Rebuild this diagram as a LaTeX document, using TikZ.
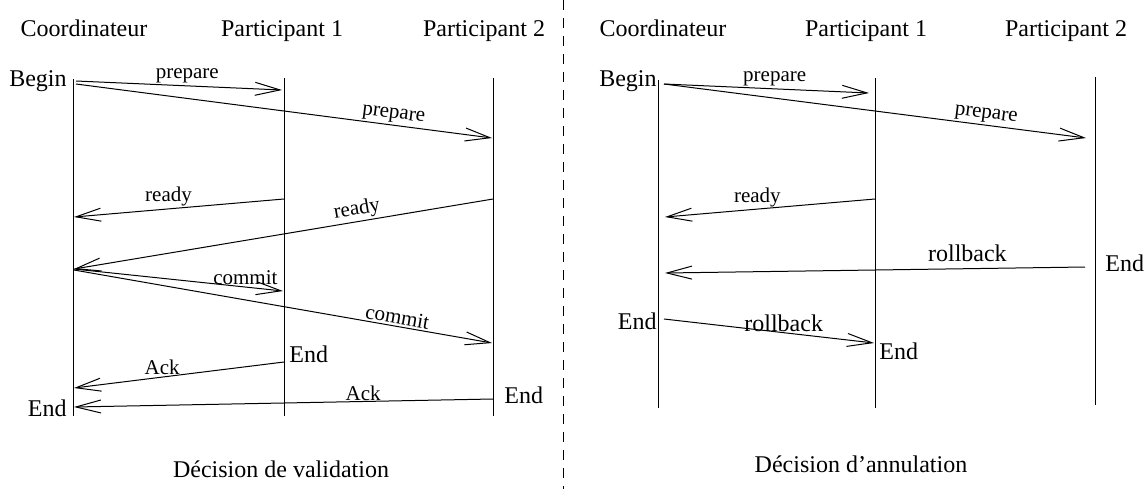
\documentclass[tikz,border=0pt]{standalone}
\usepackage{fontspec}
\setmainfont{Liberation Serif}
\usetikzlibrary{arrows.meta}

\begin{document}
\begin{tikzpicture}[x=0.5pt, y=-0.5pt,
      head/.style={font=\fontsize{12}{14}\selectfont, inner sep=0pt},
      lifeline/.style={line width=.5pt},
      msg/.style={line width=.5pt, -{Straight Barb[length=12.5pt, width=6.5pt]}},
      lbl/.style={font=\fontsize{10.5}{12}\selectfont, inner sep=1pt},
      blbl/.style={font=\fontsize{12}{14}\selectfont, inner sep=1pt},
    ]
    \useasboundingbox (0,0) rectangle (1146,489);

    % separation
    \coordinate (sepT) at (563,0);
    \coordinate (sepB) at (563,489);
    \draw[dash pattern=on 5pt off 4pt, line width=.5pt] (sepT) -- (sepB);

    % validation
    \node[head, anchor=base] (vCoord) at (84,36) {Coordinateur};
    \node[head, anchor=base] (vPart1) at (282,36) {Participant 1};
    \node[head, anchor=base] (vPart2) at (484,36) {Participant 2};

    \coordinate (vCtop) at (73,79);   \coordinate (vCbot) at (73,416);
    \coordinate (vP1top) at (284,78); \coordinate (vP1bot) at (284,416);
    \coordinate (vP2top) at (493,78); \coordinate (vP2bot) at (493,416);
    \draw[lifeline] (vCtop) -- (vCbot);
    \draw[lifeline] (vP1top) -- (vP1bot);
    \draw[lifeline] (vP2top) -- (vP2bot);

    \node[head, anchor=base east] (vBegin) at (67,86) {Begin};
    \node[head, anchor=base west] (vEnd1) at (289,362) {End};
    \node[head, anchor=base west] (vEnd2) at (504,403) {End};
    \node[head, anchor=base east] (vEndC) at (67,416) {End};

    \coordinate (vPrep1a) at (76,81);    \coordinate (vPrep1b) at (282,90);
    \coordinate (vPrep2a) at (76,84);    \coordinate (vPrep2b) at (492,138);
    \coordinate (vReady1a) at (284,199); \coordinate (vReady1b) at (74,217);
    \coordinate (vReady2a) at (493,199); \coordinate (vReady2b) at (74,269);
    \coordinate (vCommit1a) at (74,269); \coordinate (vCommit1b) at (283,291);
    \coordinate (vCommit2a) at (74,270); \coordinate (vCommit2b) at (492,343);
    \coordinate (vAck1a) at (284,362);   \coordinate (vAck1b) at (74,388);
    \coordinate (vAck2a) at (493,399);   \coordinate (vAck2b) at (74,407);

    \draw[msg] (vPrep1a) -- node[lbl, above, pos=.54] {prepare} (vPrep1b);
    \draw[msg] (vPrep2a) -- node[lbl, above, sloped, pos=.76] {prepare} (vPrep2b);
    \draw[msg] (vReady1a) -- node[lbl, above, pos=.55] {ready} (vReady1b);
    \draw[msg] (vReady2a) -- node[lbl, above, sloped, pos=.32] {ready} (vReady2b);
    \draw[msg] (vCommit1a) -- node[lbl, above, pos=.82] {commit} (vCommit1b);
    \draw[msg] (vCommit2a) -- node[lbl, above, sloped, pos=.77] {commit} (vCommit2b);
    \draw[msg] (vAck1a) -- node[lbl, above, pos=.58] {Ack} (vAck1b);
    \draw[msg] (vAck2a) -- node[lbl, above, pos=.31, inner sep=0pt] {Ack} (vAck2b);

    \node[head, anchor=base] (vTitle) at (281,477) {Décision de validation};

    % annulation
    \node[head, anchor=base] (aCoord) at (663,36) {Coordinateur};
    \node[head, anchor=base] (aPart1) at (866,36) {Participant 1};
    \node[head, anchor=base] (aPart2) at (1066,36) {Participant 2};

    \coordinate (aCtop) at (658,80);   \coordinate (aCbot) at (658,408);
    \coordinate (aP1top) at (875,78);  \coordinate (aP1bot) at (875,408);
    \coordinate (aP2top) at (1095,77); \coordinate (aP2bot) at (1095,405);
    \draw[lifeline] (aCtop) -- (aCbot);
    \draw[lifeline] (aP1top) -- (aP1bot);
    \draw[lifeline] (aP2top) -- (aP2bot);

    \node[head, anchor=base east] (aBegin) at (657,86) {Begin};
    \node[head, anchor=base west] (aEnd2) at (1105,271) {End};
    \node[head, anchor=base east] (aEndC) at (657,329) {End};
    \node[head, anchor=base west] (aEnd1) at (879,359) {End};

    \coordinate (aPrep1a) at (664,84);   \coordinate (aPrep1b) at (869,93);
    \coordinate (aPrep2a) at (664,84);   \coordinate (aPrep2b) at (1086,138);
    \coordinate (aReadya) at (875,199);  \coordinate (aReadyb) at (665,217);
    \coordinate (aRoll1a) at (1085,267); \coordinate (aRoll1b) at (665,273);
    \coordinate (aRoll2a) at (664,319);  \coordinate (aRoll2b) at (874,343);

    \draw[msg] (aPrep1a) -- node[lbl, above, pos=.54] {prepare} (aPrep1b);
    \draw[msg] (aPrep2a) -- node[lbl, above, sloped, pos=.76] {prepare} (aPrep2b);
    \draw[msg] (aReadya) -- node[lbl, above, pos=.56] {ready} (aReadyb);
    \draw[msg] (aRoll1a) -- node[blbl, above, pos=.28, inner sep=3pt] {rollback} (aRoll1b);
    \draw[msg] (aRoll2a) -- node[blbl, above, pos=.57, inner sep=0pt] {rollback} (aRoll2b);

    \node[head, anchor=base] (aTitle) at (861,472) {Décision d’annulation};
  \end{tikzpicture}
\end{document}
